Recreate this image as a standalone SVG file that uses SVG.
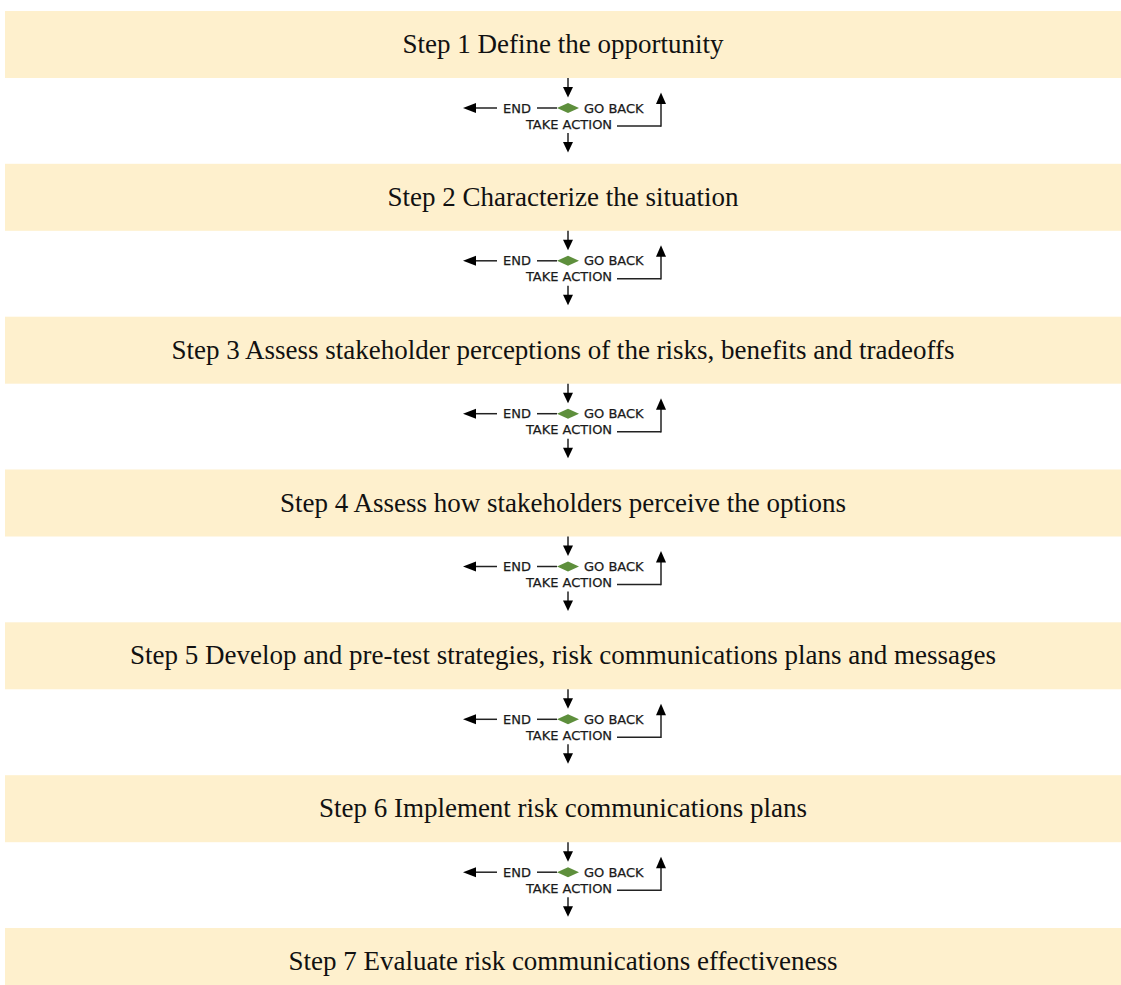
<svg xmlns="http://www.w3.org/2000/svg" width="1121" height="985" viewBox="0 0 1121 985">
<defs>
<style>
.box{fill:#fef0cd;stroke:none}
.step{font-family:"Liberation Serif","Times New Roman",serif;font-size:27px;fill:#111;text-anchor:middle}
.lbl{font-family:"DejaVu Sans",Verdana,sans-serif;font-size:13px;fill:#1a1a1a;stroke:#1a1a1a;stroke-width:0.25}
.ln{stroke:#222;stroke-width:1.5;fill:none}
.ah{fill:#000}
.dia{fill:#5e8f3c}
</style>
<g id="dec">
<line class="ln" x1="0" y1="0" x2="0" y2="11"/>
<polygon class="ah" points="-5,9 5,9 0,19.5"/>
<line class="ln" x1="-31" y1="30" x2="-11" y2="30"/>
<line class="ln" x1="-92" y1="30" x2="-71" y2="30"/>
<polygon class="ah" points="-92,25 -92,35 -105,30"/>
<line class="ln" x1="49" y1="48" x2="93" y2="48"/>
<line class="ln" x1="93" y1="48.75" x2="93" y2="24"/>
<polygon class="ah" points="88,26 98,26 93,14.5"/>
<line class="ln" x1="0" y1="55" x2="0" y2="66"/>
<polygon class="ah" points="-5,64 5,64 0,74.5"/>
</g>
</defs>
<rect width="1121" height="985" fill="#ffffff"/>
<g id="step1"><rect class="box" x="5" y="11" width="1116" height="67"/><text class="step" x="563" y="53">Step 1 Define the opportunity</text></g>
<g id="step2"><rect class="box" x="5" y="163.8" width="1116" height="67"/><text class="step" x="563" y="205.8">Step 2 Characterize the situation</text></g>
<g id="step3"><rect class="box" x="5" y="316.7" width="1116" height="67"/><text class="step" x="563" y="358.7">Step 3 Assess stakeholder perceptions of the risks, benefits and tradeoffs</text></g>
<g id="step4"><rect class="box" x="5" y="469.5" width="1116" height="67"/><text class="step" x="563" y="511.5">Step 4 Assess how stakeholders perceive the options</text></g>
<g id="step5"><rect class="box" x="5" y="622.3" width="1116" height="67"/><text class="step" x="563" y="664.3">Step 5 Develop and pre-test strategies, risk communications plans and messages</text></g>
<g id="step6"><rect class="box" x="5" y="775.2" width="1116" height="67"/><text class="step" x="563" y="817.2">Step 6 Implement risk communications plans</text></g>
<g id="step7"><rect class="box" x="5" y="928" width="1116" height="67"/><text class="step" x="563" y="970">Step 7 Evaluate risk communications effectiveness</text></g>
<g id="connectors">
<use href="#dec" transform="translate(568,78)"/>
<use href="#dec" transform="translate(568,230.8)"/>
<use href="#dec" transform="translate(568,383.7)"/>
<use href="#dec" transform="translate(568,536.5)"/>
<use href="#dec" transform="translate(568,689.3)"/>
<use href="#dec" transform="translate(568,842.2)"/>
</g>
<g id="decision1" transform="translate(568,78)"><polygon class="dia" points="-11,30 0,25 11,30 0,35"/><text class="lbl" x="-51" y="34.5" text-anchor="middle">END</text><text class="lbl" x="16" y="34.5">GO BACK</text><text class="lbl" x="1" y="50.5" text-anchor="middle">TAKE ACTION</text></g>
<g id="decision2" transform="translate(568,230.8)"><polygon class="dia" points="-11,30 0,25 11,30 0,35"/><text class="lbl" x="-51" y="34.5" text-anchor="middle">END</text><text class="lbl" x="16" y="34.5">GO BACK</text><text class="lbl" x="1" y="50.5" text-anchor="middle">TAKE ACTION</text></g>
<g id="decision3" transform="translate(568,383.7)"><polygon class="dia" points="-11,30 0,25 11,30 0,35"/><text class="lbl" x="-51" y="34.5" text-anchor="middle">END</text><text class="lbl" x="16" y="34.5">GO BACK</text><text class="lbl" x="1" y="50.5" text-anchor="middle">TAKE ACTION</text></g>
<g id="decision4" transform="translate(568,536.5)"><polygon class="dia" points="-11,30 0,25 11,30 0,35"/><text class="lbl" x="-51" y="34.5" text-anchor="middle">END</text><text class="lbl" x="16" y="34.5">GO BACK</text><text class="lbl" x="1" y="50.5" text-anchor="middle">TAKE ACTION</text></g>
<g id="decision5" transform="translate(568,689.3)"><polygon class="dia" points="-11,30 0,25 11,30 0,35"/><text class="lbl" x="-51" y="34.5" text-anchor="middle">END</text><text class="lbl" x="16" y="34.5">GO BACK</text><text class="lbl" x="1" y="50.5" text-anchor="middle">TAKE ACTION</text></g>
<g id="decision6" transform="translate(568,842.2)"><polygon class="dia" points="-11,30 0,25 11,30 0,35"/><text class="lbl" x="-51" y="34.5" text-anchor="middle">END</text><text class="lbl" x="16" y="34.5">GO BACK</text><text class="lbl" x="1" y="50.5" text-anchor="middle">TAKE ACTION</text></g>
</svg>
